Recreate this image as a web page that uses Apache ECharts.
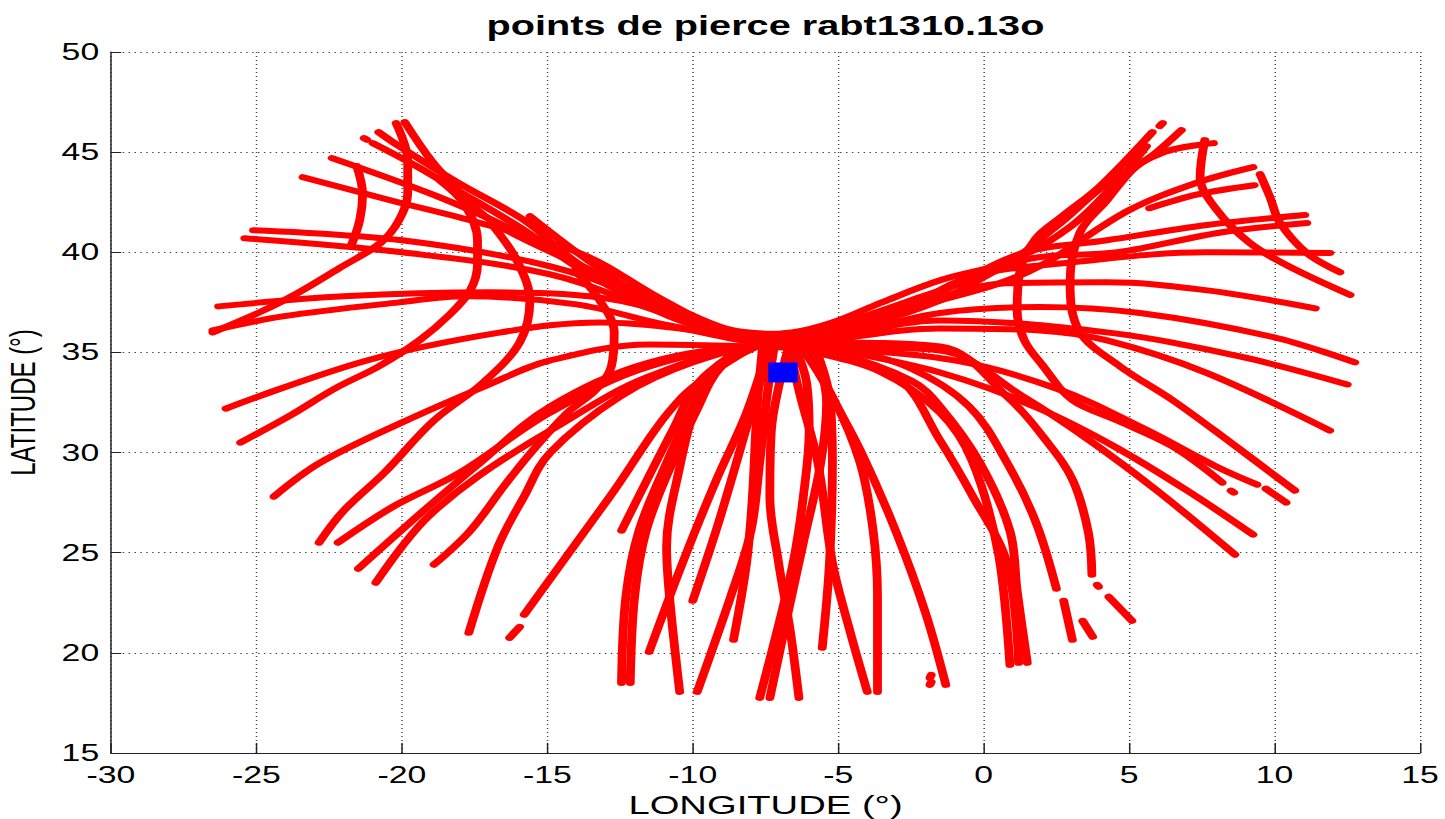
<!DOCTYPE html>
<html>
<head>
<meta charset="utf-8">
<title>points de pierce rabt1310.13o</title>
<script src="https://cdn.jsdelivr.net/npm/echarts@6/dist/echarts.min.js"></script>
<style>
html, body { margin: 0; padding: 0; background: #fff; overflow: hidden; }
/* la figure d'origine est etiree en largeur : on dessine etroit puis on elargit */
#chart { width: 983px; height: 819px; transform: scaleX(1.47); transform-origin: 0 0; }
</style>
</head>
<body>
<div id="chart"></div>
<script>
// axes
var lonRange = [-30, 15];
var latRange = [15, 50];
var tickStep = 5;

// station (carre bleu)
var station = [[-6.9, 34.0]];

// traces des points de pierce [longitude, latitude] - aile gauche
var t01 = [[-19.9,46.5],[-19.0,44.6],[-18.2,43.3],[-17.4,42.1],[-16.4,41.1],[-13.8,39.3],[-11.8,38.0],[-10.1,36.9],[-8.6,36.1],[-6.6,35.9]];
var t02 = [[-20.8,46.0],[-20.1,45.3],[-18.1,43.5],[-15.8,41.6],[-13.8,39.3],[-11.0,37.2],[-8.6,36.0],[-6.5,35.8]];
var t03 = [[-21.0,45.45],[-19.5,44.3],[-18.1,43.1],[-15.9,41.2],[-13.8,39.1],[-10.8,36.8],[-8.6,35.9],[-6.5,35.7]];
var t03dot = [[-21.3,45.7],[-21.2,45.62]];
var t04 = [[-22.4,44.7],[-18.8,42.8],[-16.0,41.0],[-13.8,39.3],[-11.0,37.2],[-8.6,35.9],[-6.5,35.7]];
var t05 = [[-23.4,43.75],[-20.4,42.6],[-17.4,41.5],[-13.8,39.9],[-11.0,37.6],[-8.6,36.0],[-6.5,35.8]];
var t06 = [[-15.6,41.8],[-13.6,39.6],[-11.2,37.4],[-8.6,35.9],[-6.6,35.7]];
var t07 = [[-25.1,41.1],[-20.0,40.6],[-14.9,39.3],[-11.5,37.6],[-8.6,35.9],[-6.5,35.6]];
var t08 = [[-25.4,40.7],[-20.0,40.0],[-14.9,38.9],[-11.5,37.2],[-8.6,35.8],[-6.5,35.5]];
var t09 = [[-26.3,37.3],[-22.0,37.8],[-17.0,38.0],[-13.0,37.7],[-10.0,36.6],[-8.3,35.8],[-6.5,35.5]];
var t10 = [[-26.5,36.1],[-24.1,36.8],[-20.1,37.5],[-17.8,37.8],[-14.0,37.4],[-11.0,36.4],[-8.3,35.7],[-6.5,35.4]];
var arcA = [[-20.2,46.45],[-19.8,44.6],[-19.8,42.95],[-20.1,41.6],[-20.75,40.45],[-22.1,39.25],[-23.6,37.95],[-24.9,37.0],[-26.5,36.0]];
var arcB = [[-21.55,44.3],[-21.35,42.9],[-21.45,41.6],[-21.75,40.3]];
var arcC = [[-18.7,43.6],[-17.85,42.4],[-17.4,40.6],[-17.4,39.4],[-17.65,38.1],[-18.35,36.9],[-19.4,35.6],[-20.8,34.3],[-22.3,33.2],[-23.9,31.8],[-25.55,30.5]];
var arcD = [[-16.8,41.2],[-16.05,39.6],[-15.6,37.6],[-15.95,35.5],[-17.2,33.5],[-18.9,31.6],[-20.6,29.0],[-22.0,27.1],[-22.85,25.5]];
var arcE = [[-14.05,39.1],[-13.2,37.6],[-12.7,36.0],[-12.8,34.3],[-13.35,33.1],[-14.3,32.0],[-15.5,30.1],[-16.45,28.4],[-17.65,26.1],[-18.9,24.4]];

// bas gauche
var e01 = [[-26.05,32.2],[-21.2,34.6],[-16.6,36.0],[-13.2,36.5],[-10.5,36.2],[-8.3,35.6],[-6.5,35.3]];
var e02 = [[-24.4,27.8],[-22.8,29.5],[-20.0,31.5],[-17.0,33.4],[-14.9,34.6],[-11.5,35.4],[-8.0,35.3],[-6.0,35.2]];
var e03 = [[-22.2,25.5],[-20.3,27.3],[-18.0,29.0],[-14.9,32.0],[-11.5,34.3],[-7.5,35.3],[-6.0,35.3]];
var e04 = [[-21.5,24.2],[-19.25,27.1],[-17.3,29.5],[-14.9,32.3],[-11.5,34.5],[-7.5,35.3],[-6.0,35.3]];
var e05 = [[-20.9,23.5],[-20.0,25.3],[-19.1,26.8],[-17.4,28.8],[-14.9,31.1],[-11.5,33.8],[-7.5,35.3],[-6.0,35.3]];
var e06 = [[-17.7,21.0],[-16.7,25.3],[-15.8,27.8],[-14.9,30.0],[-12.5,32.8],[-10.0,34.5],[-7.5,35.3],[-6.0,35.3]];
var e07a = [[-16.3,20.75],[-15.95,21.3]];
var e07 = [[-15.8,21.9],[-12.85,27.8],[-10.35,32.8],[-8.0,35.2]];
var e08 = [[-12.45,26.1],[-10.7,31.1],[-9.75,33.6],[-8.2,35.3]];

// bas centre
var b01 = [[-12.45,18.5],[-12.3,22.8],[-11.85,26.1],[-10.9,29.5],[-10.1,32.0],[-9.2,34.3],[-7.8,35.4]];
var b02 = [[-12.15,18.5],[-12.0,22.8],[-11.6,26.1],[-10.7,29.5],[-9.9,32.0],[-9.0,34.3],[-7.6,35.4]];
var b03 = [[-11.5,20.05],[-10.35,24.5],[-9.2,28.6],[-8.15,32.0],[-7.4,35.3]];
var b04 = [[-10.45,18.05],[-10.8,22.8],[-10.9,25.3],[-10.55,28.6],[-9.75,32.8],[-8.5,35.3]];
var b05 = [[-10.0,22.6],[-9.2,26.1],[-8.5,29.5],[-8.0,32.0],[-7.3,35.3]];
var b06 = [[-9.85,18.05],[-8.7,22.8],[-8.0,26.1],[-7.7,29.5],[-7.45,32.8],[-7.2,35.3]];
var b07 = [[-8.6,20.65],[-8.15,24.5],[-7.95,27.8],[-7.8,32.0],[-7.6,35.3]];
var b08 = [[-7.7,17.75],[-7.1,21.1],[-6.55,24.5],[-6.2,27.8],[-6.0,31.1],[-6.1,33.6],[-6.5,35.3]];
var b09 = [[-7.35,17.75],[-6.8,21.5],[-6.2,25.5],[-5.6,29.5],[-5.4,32.5],[-5.8,35.3]];
var b10 = [[-6.35,17.75],[-6.65,21.1],[-7.05,24.5],[-7.35,27.8],[-7.3,31.1],[-7.0,33.6],[-6.7,35.3]];
var b11 = [[-5.55,20.25],[-5.3,24.5],[-5.2,29.5],[-5.3,32.8],[-5.8,35.3]];
var b12 = [[-4.0,18.05],[-4.6,21.1],[-5.2,24.5],[-5.7,29.5],[-6.3,32.8],[-6.7,35.3]];
var b13 = [[-3.65,18.05],[-3.65,22.8],[-3.8,26.1],[-4.25,29.5],[-5.2,32.8],[-6.3,35.3]];
var b14 = [[-1.3,18.4],[-2.0,22.0],[-3.0,26.0],[-4.2,30.0],[-5.3,33.0],[-6.2,35.3]];
var dot1 = [[-1.85,18.75],[-1.8,18.9]];
var dot2 = [[-1.85,18.4],[-1.8,18.55]];

// bas droite
var r01 = [[-7.5,35.4],[-5.8,35.0],[-3.5,34.0],[-1.5,32.0],[-0.4,29.6],[0.5,25.0],[0.9,19.4]];
var r02 = [[-7.5,35.4],[-5.5,35.0],[-3.0,33.8],[-1.5,30.6],[-0.37,27.8],[0.8,24.5],[1.2,19.5]];
var r03 = [[-7.5,35.4],[-5.2,35.0],[-2.5,33.6],[-1.5,32.3],[-0.13,29.5],[0.9,26.1],[1.15,23.1],[1.5,19.5]];
var r04 = [[-7.5,35.4],[-5.0,35.2],[-2.5,34.2],[-0.5,32.3],[0.8,29.5],[1.8,26.5],[2.5,23.2]];
var r04d1 = [[2.75,22.6],[3.05,20.65]];
var r04d2 = [[3.4,21.6],[3.75,20.8]];
var r05 = [[-7.5,35.5],[-5.5,35.5],[-1.5,35.3],[0.8,32.8],[2.2,30.5],[3.07,28.6],[3.6,26.0],[3.72,23.9]];
var r05dot = [[3.9,23.4],[3.95,23.3]];
var r05d = [[4.3,22.8],[5.1,21.6]];
var r06 = [[-7.5,35.5],[-5.5,35.3],[-1.5,35.1],[1.35,32.8],[3.65,30.6],[5.96,28.1],[8.64,24.9]];
var r07 = [[-7.5,35.4],[-5.5,35.2],[-1.5,34.0],[1.9,32.2],[4.5,30.3],[7.0,28.1],[9.26,25.9]];
var r08 = [[-7.5,35.4],[-5.3,35.2],[-1.0,34.6],[2.5,33.2],[5.5,31.2],[8.0,29.3],[9.4,28.4]];
var r08d = [[9.7,28.2],[10.4,27.5]];
var r08dot = [[8.5,28.1],[8.6,28.0]];

// aile droite
var arcR1 = [[5.8,46.0],[4.0,43.3],[2.7,41.8],[1.8,40.7],[1.25,39.1],[1.15,37.1],[1.4,35.6],[2.0,34.4],[3.07,32.6],[4.6,31.6],[6.5,30.3],[8.2,28.5]];
var arcR2 = [[6.8,46.1],[5.95,45.0],[5.1,44.1],[4.24,42.6],[3.31,41.0],[2.97,38.5],[3.31,36.0],[4.69,34.3],[6.51,32.6],[8.4,30.6],[10.7,28.1]];
var ra = [[-8.2,35.9],[-6.6,36.0],[-5.2,36.5],[-3.5,37.5],[-1.5,38.6],[1.0,39.6],[3.0,41.3],[4.5,43.4],[5.6,45.3]];
var radot = [[6.05,46.3],[6.15,46.45]];
var rd = [[-8.0,35.8],[-6.5,35.9],[-5.0,36.4],[-2.5,37.6],[0.5,39.2],[2.5,41.3],[4.3,43.5],[6.2,45.0],[7.9,45.45]];
var arc1 = [[7.6,45.6],[7.44,43.76],[8.02,42.1],[9.15,40.46],[10.53,39.27],[12.6,37.87]];
var arc2 = [[9.5,43.9],[9.84,42.76],[10.19,41.46],[11.11,39.96],[12.25,39.0]];
var re = [[-8.0,35.7],[-6.5,35.9],[-4.5,36.5],[-2.0,37.4],[1.5,39.0],[5.0,42.1],[7.3,43.46],[9.26,44.25]];
var rf = [[5.7,42.2],[7.4,42.9],[9.3,43.35]];
var rg = [[-8.0,35.6],[-6.5,35.8],[-4.0,36.6],[-1.5,38.0],[1.35,39.96],[4.24,40.6],[7.68,41.36],[11.04,41.86]];
var rh = [[-8.0,35.6],[-6.5,35.7],[-4.0,36.4],[-1.5,37.6],[1.35,39.6],[4.6,40.0],[8.2,41.0],[11.11,41.46]];
var ri = [[-8.0,35.5],[-6.5,35.6],[-3.0,37.0],[-0.4,38.8],[3.06,39.5],[7.68,40.0],[11.9,39.97]];
var rj = [[-8.0,35.5],[-6.5,35.6],[-2.5,37.3],[0.8,38.45],[4.24,38.5],[7.68,38.1],[11.4,37.2]];
var rk = [[-8.0,35.5],[-6.0,35.6],[-1.5,36.97],[1.94,37.27],[5.37,36.97],[9.94,35.77],[12.76,34.5]];
var rl = [[-8.0,35.4],[-6.0,35.5],[-1.5,36.6],[4.24,36.0],[8.8,34.8],[12.5,33.4]];
var rm = [[-8.0,35.4],[-6.0,35.5],[-1.5,36.2],[1.94,36.1],[4.24,35.6],[7.68,33.97],[11.9,31.1]];

var tracks = [
    t01, t02, t03, t03dot, t04, t05, t06, t07, t08, t09, t10, arcA, arcB, arcC, arcD, arcE,
    e01, e02, e03, e04, e05, e06, e07a, e07, e08,
    b01, b02, b03, b04, b05, b06, b07, b08, b09, b10, b11, b12, b13, b14, dot1, dot2,
    r01, r02, r03, r04, r04d1, r04d2, r05, r05dot, r05d, r06, r07, r08, r08d, r08dot,
    arcR1, arcR2, ra, radot, rd, arc1, arc2, re, rf, rg, rh, ri, rj, rk, rl, rm
];

var font = "'Liberation Sans', Arial, sans-serif";

var chart = echarts.init(document.getElementById("chart"), null, { renderer: "svg" });

var series = tracks.map(function(t) {
    return {
        type: "line",
        data: t,
        smooth: 0.35,
        symbol: "none",
        silent: true,
        lineStyle: { color: "#ff0000", width: 6, cap: "round", join: "round" },
        z: 2
    };
});
series.push({
    type: "scatter",
    data: station,
    symbol: "rect",
    symbolSize: [20, 20],
    itemStyle: { color: "#0000ff", opacity: 1 },
    silent: true,
    z: 5
});

var option = {
    animation: false,
    backgroundColor: "#fff",
    graphic: [{
        type: "text",
        x: 520.7,
        y: 12,
        style: {
            text: "points de pierce rabt1310.13o",
            font: "bold 27px " + font,
            fill: "#000",
            textAlign: "center"
        }
    }],
    grid: { left: 75.5, right: 17, top: 52, bottom: 66, containLabel: false, outerBoundsMode: "none" },
    xAxis: {
        type: "value",
        min: lonRange[0],
        max: lonRange[1],
        interval: tickStep,
        name: "LONGITUDE (°)",
        nameLocation: "middle",
        nameGap: 33,
        nameTextStyle: { fontSize: 26, color: "#000", fontFamily: font },
        axisLine: { show: true, onZero: false, lineStyle: { color: "#222", width: 1 } },
        axisTick: { show: true, inside: true, length: 10, lineStyle: { color: "#222" } },
        axisLabel: { fontSize: 23, color: "#000", margin: 11, fontFamily: font, showMinLabel: true, showMaxLabel: true },
        splitLine: { show: true, lineStyle: { type: [1, 3], color: "#444", width: 1 } }
    },
    yAxis: {
        type: "value",
        min: latRange[0],
        max: latRange[1],
        interval: tickStep,
        name: "LATITUDE (°)",
        nameLocation: "middle",
        nameGap: 48,
        nameTextStyle: { fontSize: 24, color: "#000", fontFamily: font },
        axisLine: { show: true, onZero: false, lineStyle: { color: "#222", width: 1 } },
        axisTick: { show: true, inside: true, length: 7, lineStyle: { color: "#222" } },
        axisLabel: { fontSize: 23, color: "#000", margin: 8, fontFamily: font, showMinLabel: true, showMaxLabel: true },
        splitLine: { show: true, lineStyle: { type: [1, 3], color: "#444", width: 1 } }
    },
    series: series
};

chart.setOption(option);
</script>
</body>
</html>
